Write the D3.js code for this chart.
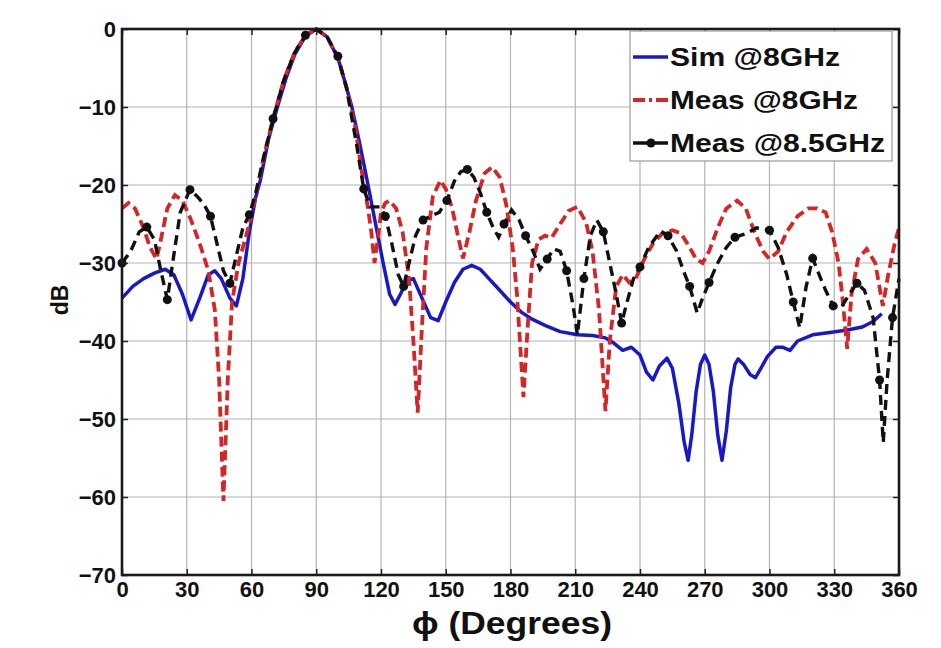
<!DOCTYPE html>
<html lang="en">
<head>
    <meta charset="UTF-8">
    <title>Radiation pattern</title>
    <script src="https://d3js.org/d3.v7.min.js"></script>
    <style>
        body { margin: 0; background: #fff; }
        text { font-family: "Liberation Sans", Arial, sans-serif; font-weight: bold; fill: #111; }
        .grid line { stroke: #b4b4b4; stroke-width: 1.2px; }
    </style>
</head>
<body>
<script>
    // tick labels
    const xTicks = [0, 30, 60, 90, 120, 150, 180, 210, 240, 270, 300, 330, 360];
    const yTicks = [0, -10, -20, -30, -40, -50, -60, -70];

    // [phi (deg), dB]
    const simData = [
        [0,-34.5],[5,-33],[10,-32],[15,-31.3],[20,-30.8],[24,-31.5],[28,-34],[32,-37.3],[36,-34.5],
        [40,-31.5],[43,-31],[46,-32],[50,-34.5],[53,-35.5],[56,-32],[59,-26],[62,-21.5],[64,-19.5],
        [68,-14],[72,-10],[76,-6.3],[80,-3.3],[85,-0.9],[90,0],[95,-1],[100,-3.7],[103,-6.5],
        [106.5,-10],[110,-14.5],[114,-20],[117.5,-25],[121,-30],[124,-34],[126.5,-35.3],[129,-34],
        [132,-32.3],[135,-32],[139,-34.5],[143,-37],[146.5,-37.4],[150,-35],[154,-32.5],[158,-30.8],
        [162,-30.3],[166,-30.8],[170,-32],[175,-33.5],[180,-35],[185,-36.3],[190,-37.2],[196,-38],
        [203,-38.8],[211,-39.2],[218,-39.3],[224,-39.6],[228,-40.3],[232,-41.2],[236,-40.8],[240,-41.8],
        [243,-44],[246,-45],[249,-43.2],[252.5,-42.2],[255,-43.5],[258,-48],[260.5,-53],[262.3,-55.3],
        [264,-52],[266,-46.5],[268,-43],[270,-41.8],[272,-43],[274,-46.5],[276,-52],[278,-55.3],
        [280,-51.5],[282,-46],[284,-43],[285.5,-42.3],[288,-43],[291,-44.3],[293.5,-44.7],[296,-43.5],
        [299,-42],[303,-40.8],[306,-40.8],[309.5,-41.2],[313,-40],[320,-39.2],[328,-38.9],[336,-38.6],
        [343,-38.2],[348,-37.5],[352,-36.5]
    ];

    const meas8Data = [
        [0,-23],[3,-22.3],[6,-23],[10,-25.5],[13,-28],[16,-29.5],[18,-27],[21,-23],[24.5,-21.3],
        [28,-22],[32,-24.5],[36,-27.5],[40,-31],[43,-36],[45,-45],[47,-60.5],[49,-45],[51,-35],
        [54,-30],[57,-27],[60,-24],[63,-20],[66,-16],[70,-11.5],[75,-6.5],[80,-3],[85,-0.8],[90,0],
        [95,-1],[100,-3.7],[104,-7.5],[108,-12.5],[111.5,-19],[114,-23],[115.5,-26],[117,-30],
        [118.5,-27],[120,-23.5],[122,-22.3],[124,-22],[127,-23],[130,-26],[133,-32],[135,-40],
        [137,-49.2],[139,-38],[141,-28],[144,-21.5],[147.5,-19.4],[150,-20.5],[153,-23],[156,-27],
        [158,-29.4],[161,-26],[164,-22],[168,-18.5],[171.5,-17.7],[175,-19],[178,-22.5],[181,-28],
        [183,-34],[186,-47.2],[188,-38],[190,-30],[193,-27],[196,-26.5],[199,-26.8],[203,-25],
        [207,-23.3],[211,-22.8],[215,-24.8],[218,-28.5],[221,-36],[224,-49],[226,-40],[229,-33],
        [232,-31.5],[235,-32.5],[238,-32],[242,-29.5],[246,-27.5],[250,-26.3],[255,-25.8],[259,-26.2],
        [263,-28],[266,-29.5],[269,-30],[272,-28.5],[276,-25.5],[280,-23],[285,-22],[289,-23],
        [293,-26],[297,-28.5],[300,-29.5],[304,-28.5],[308,-26],[313,-24],[318,-23],[322,-23],
        [326,-23.5],[329,-26],[332,-30],[334,-35],[336,-41],[338,-34],[341,-29.5],[345,-28.2],
        [349,-30],[352.5,-35.5],[355,-31.5],[358,-27.5],[360,-25.5]
    ];

    const meas85Data = [
        [0,-30],[4,-28.5],[8,-26],[11.5,-25.4],[15,-27],[18,-31],[21,-34.7],[24,-29],[27,-23.5],
        [31.5,-20.6],[35,-21.5],[38,-22.5],[41,-24],[44,-27.5],[47,-31],[50,-32.6],[53,-29],[56,-25.5],
        [59,-23.8],[62,-21],[66,-16],[70,-11.5],[75,-6.5],[80,-3],[85,-0.8],[90,0],[95,-1],[100,-3.5],
        [104,-7.5],[108.8,-15],[112,-20.5],[115,-22.8],[119.5,-22.8],[122,-24],[125,-27.5],[128,-31.5],
        [130.5,-33],[133,-30],[136,-26.5],[139.5,-24.5],[143,-24],[147,-23.5],[150.5,-22],[154,-19.5],
        [157,-18.3],[160,-18],[163,-19],[166,-21],[169,-23.5],[172,-25.5],[174.5,-26.7],[177,-25],
        [180.5,-23.2],[184,-24.5],[187,-26.5],[190.5,-28.5],[193.7,-30.8],[197,-29.5],[200,-28.2],
        [203,-28.5],[206,-31],[209,-35.5],[211,-39.2],[214,-32],[217,-26.5],[220,-24.5],[223,-26],
        [226,-30],[229,-34],[231.5,-37.7],[234,-35],[237,-32],[240,-30.5],[244,-28],[249.5,-25.9],
        [253,-26.5],[257,-28.5],[260,-30.9],[263,-33],[266.5,-36.4],[269,-34.5],[272,-32.5],[276,-30],
        [280,-28],[284,-26.7],[289.5,-26.2],[294,-25.5],[300,-25.8],[304,-28],[308,-31.5],[311,-35],
        [314,-38.3],[317,-33],[320,-29.4],[323,-31.5],[326,-33.5],[329.5,-35.5],[333,-35.8],[337,-34],
        [340.5,-32.6],[344,-33.5],[348,-37],[351,-45],[352.7,-53],[354.5,-45],[357,-37],[360,-32]
    ];

    const legendLabels = ["Sim @8GHz", "Meas @8GHz", "Meas @8.5GHz"];

    const width = 941, height = 648;
    const margin = {top: 29, right: 42, bottom: 73, left: 122};
    const innerW = width - margin.left - margin.right;
    const innerH = height - margin.top - margin.bottom;

    const svg = d3.select("body").append("svg")
        .attr("width", width)
        .attr("height", height)
        .style("background", "#fff");

    const g = svg.append("g").attr("transform", `translate(${margin.left},${margin.top})`);

    const x = d3.scaleLinear().domain([0, 360]).range([0, innerW]);
    const y = d3.scaleLinear().domain([-70, 0]).range([innerH, 0]);

    // grid
    const grid = g.append("g").attr("class", "grid");
    grid.selectAll(".gx").data(xTicks.slice(1, -1)).enter().append("line")
        .attr("x1", d => x(d)).attr("x2", d => x(d))
        .attr("y1", 0).attr("y2", innerH);
    grid.selectAll(".gy").data(yTicks.slice(1, -1)).enter().append("line")
        .attr("x1", 0).attr("x2", innerW)
        .attr("y1", d => y(d)).attr("y2", d => y(d));

    // curves
    const line = d3.line().x(d => x(d[0])).y(d => y(d[1]));

    g.append("path").datum(simData)
        .attr("d", line)
        .attr("fill", "none")
        .attr("stroke", "#1818c8")
        .attr("stroke-width", 3.5)
        .attr("stroke-linejoin", "round");

    g.append("path").datum(meas8Data)
        .attr("d", line)
        .attr("fill", "none")
        .attr("stroke", "#d42626")
        .attr("stroke-width", 3.8)
        .attr("stroke-dasharray", "10,5");

    g.append("path").datum(meas85Data)
        .attr("d", line)
        .attr("fill", "none")
        .attr("stroke", "#111")
        .attr("stroke-width", 3.4)
        .attr("stroke-dasharray", "10,6");

    g.selectAll(".mk").data(meas85Data.filter((d, i) => i % 3 === 0)).enter().append("circle")
        .attr("cx", d => x(d[0]))
        .attr("cy", d => y(d[1]))
        .attr("r", 4.5)
        .attr("fill", "#111");

    // axes (matlab style: ticks inside, box around)
    const xAxis = d3.axisBottom(x).tickValues(xTicks).tickSize(-6).tickPadding(9);
    const yAxis = d3.axisLeft(y).tickValues(yTicks).tickSize(-6).tickPadding(6);

    const gx = g.append("g").attr("transform", `translate(0,${innerH})`).call(xAxis);
    const gy = g.append("g").call(yAxis);
    g.append("g").call(d3.axisTop(x).tickValues(xTicks).tickSize(-6).tickFormat(""));
    g.append("g").attr("transform", `translate(${innerW},0)`)
        .call(d3.axisRight(y).tickValues(yTicks).tickSize(-6).tickFormat(""));

    svg.selectAll(".domain").remove();
    svg.selectAll(".tick line").attr("stroke", "#222").attr("stroke-width", 1.5);
    gx.selectAll("text").style("font-size", "22px").attr("fill", "#111").attr("dy", "0.6em");
    gy.selectAll("text").style("font-size", "22px").attr("fill", "#111");

    g.append("rect")
        .attr("width", innerW).attr("height", innerH)
        .attr("fill", "none").attr("stroke", "#1a1a1a").attr("stroke-width", 2.6);

    // axis titles
    svg.append("text")
        .attr("x", 512)
        .attr("y", 634)
        .attr("text-anchor", "middle")
        .attr("textLength", 200)
        .attr("lengthAdjust", "spacingAndGlyphs")
        .style("font-size", "32px")
        .text("ϕ (Degrees)");

    svg.append("text")
        .attr("transform", "translate(68,300) rotate(-90)")
        .attr("text-anchor", "middle")
        .style("font-size", "23px")
        .text("dB");

    // legend
    const lg = svg.append("g").attr("transform", "translate(630,31)");
    lg.append("rect")
        .attr("width", 262).attr("height", 130)
        .attr("fill", "#fff").attr("stroke", "#999").attr("stroke-width", 1.2);

    const textLens = [170, 188, 215];
    const rows = [
        {color: "#1818c8", dash: null, w: 3.5, marker: false},
        {color: "#d42626", dash: "12,4,3,4", w: 3.8, marker: false},
        {color: "#111", dash: null, w: 3.4, marker: true}
    ];
    legendLabels.forEach((lab, i) => {
        const cy = 26 + i * 43;
        const r = rows[i];
        lg.append("line")
            .attr("x1", 3).attr("x2", 38).attr("y1", cy).attr("y2", cy)
            .attr("stroke", r.color).attr("stroke-width", r.w)
            .attr("stroke-dasharray", r.dash);
        if (r.marker) {
            lg.append("circle").attr("cx", 21).attr("cy", cy).attr("r", 4.5).attr("fill", "#111");
        }
        lg.append("text")
            .attr("x", 40).attr("y", cy + 9)
            .attr("textLength", textLens[i])
            .attr("lengthAdjust", "spacingAndGlyphs")
            .style("font-size", "25px")
            .text(lab);
    });
</script>
</body>
</html>
